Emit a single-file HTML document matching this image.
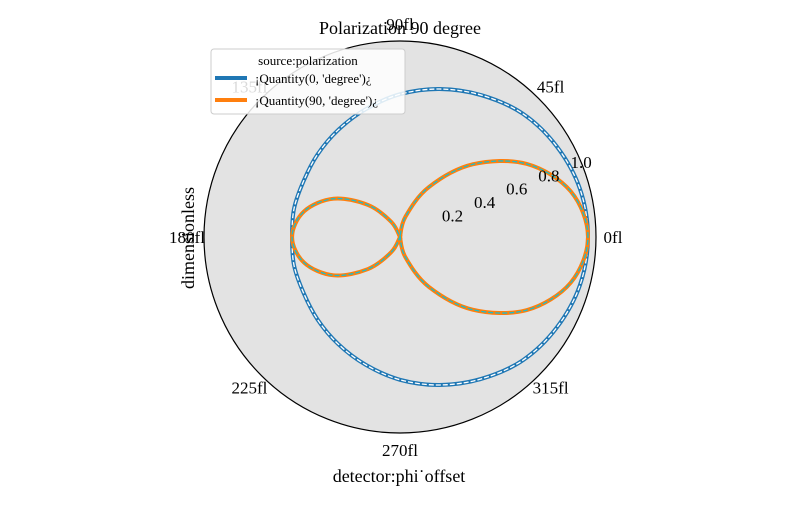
<!DOCTYPE html>
<html><head><meta charset="utf-8"><style>
body{margin:0;background:#fff;}
svg text{font-family:"Liberation Serif",serif;fill:#000;}
</style></head><body>
<svg id="chart" width="800" height="500" viewBox="0 0 800 500" xmlns="http://www.w3.org/2000/svg">
<circle cx="400" cy="237" r="196" fill="#e3e3e3" stroke="#000" stroke-width="1.2"/>
<g id="curves"></g>
<g id="ticks"></g>
<text x="400" y="34" font-size="18" text-anchor="middle">Polarization 90 degree</text>
<text x="399" y="482" font-size="18" text-anchor="middle">detector:phi˙offset</text>
<text transform="translate(194,238) rotate(-90)" font-size="18" text-anchor="middle">dimensionless</text>
<g>
<rect x="211" y="49" width="194" height="65" rx="3" fill="#fff" fill-opacity="0.85" stroke="#ccc"/>
<text x="308" y="65" font-size="13" text-anchor="middle">source:polarization</text>
<line x1="215" y1="78" x2="247" y2="78" stroke="#1f77b4" stroke-width="4"/>
<text x="255" y="83" font-size="13">¡Quantity(0, 'degree')¿</text>
<line x1="215" y1="100" x2="247" y2="100" stroke="#ff7f0e" stroke-width="4"/>
<text x="255" y="105" font-size="13">¡Quantity(90, 'degree')¿</text>
</g>
</svg>
<script>
const anglesDeg=[0,15,30,45,60,75,90,105,120,135,150,165,180,195,210,225,240,255,270,285,300,315,330,345];
const seriesPol0=[1.0,0.99,0.96,0.92,0.86,0.80,0.74,0.68,0.63,0.59,0.56,0.55,0.54,0.55,0.56,0.59,0.63,0.68,0.74,0.80,0.86,0.92,0.96,0.99];
const seriesPol90=[1.0,0.935,0.76,0.51,0.25,0.04,-0.08,-0.08,0.02,0.18,0.36,0.49,0.54,0.49,0.36,0.18,0.02,-0.08,-0.08,0.04,0.25,0.51,0.76,0.935];
const rTicks=[0.2,0.4,0.6,0.8,1.0];
const rTickLabels=["0.2","0.4","0.6","0.8","1.0"];
const thetaTicks=[0,45,90,135,180,225,270,315];
const thetaTickLabels=["0fl","45fl","90fl","135fl","180fl","225fl","270fl","315fl"];
const CX=400,CY=237,R=196;
function rScale(v){return Math.max(0,14+174*v);}
function pt(deg,v){const a=deg*Math.PI/180,r=rScale(v);return [CX+r*Math.cos(a),CY-r*Math.sin(a)];}
function pathFor(vals){
  const p=anglesDeg.map((d,i)=>pt(d,vals[i]));const n=p.length;
  let d="M"+p[0][0].toFixed(2)+","+p[0][1].toFixed(2);
  for(let i=0;i<n;i++){
    const p0=p[(i-1+n)%n],p1=p[i],p2=p[(i+1)%n],p3=p[(i+2)%n];
    const c1=[p1[0]+(p2[0]-p0[0])/6,p1[1]+(p2[1]-p0[1])/6];
    const c2=[p2[0]-(p3[0]-p1[0])/6,p2[1]-(p3[1]-p1[1])/6];
    d+="C"+c1.map(x=>x.toFixed(2))+" "+c2.map(x=>x.toFixed(2))+" "+p2.map(x=>x.toFixed(2));
  }
  return d+"Z";
}
const NS="http://www.w3.org/2000/svg";
const curves=document.getElementById('curves');
function addPath(d,stroke,w,dash,name){
  const el=document.createElementNS(NS,'path');
  el.setAttribute('d',d);el.setAttribute('fill','none');el.setAttribute('stroke',stroke);el.setAttribute('stroke-width',w);
  if(dash)el.setAttribute('stroke-dasharray',dash);
  
  
  curves.appendChild(el);
}
const d0=pathFor(seriesPol0),d90=pathFor(seriesPol90);
addPath(d0,'#1f77b4',4,null,'series-pol-0deg');
addPath(d0,'#ffffff',1.3,'5,2','series-pol-0deg-dash');
addPath(d90,'#ff7f0e',4,null,'series-pol-90deg');
addPath(d90,'#17becf',1.3,'5,2','series-pol-90deg-dash');
const ticks=document.getElementById('ticks');
rTicks.forEach((v,i)=>{
  const a=22.5*Math.PI/180,r=rScale(v)+8;
  const t=document.createElementNS(NS,'text');
  t.setAttribute('x',CX+r*Math.cos(a));t.setAttribute('y',CY-r*Math.sin(a)+6);
  t.setAttribute('font-size','17');t.setAttribute('text-anchor','middle');
  t.textContent=rTickLabels[i];
  
  
  ticks.appendChild(t);
});
thetaTicks.forEach((deg,i)=>{
  const a=deg*Math.PI/180,r=R+17;
  const t=document.createElementNS(NS,'text');
  t.setAttribute('x',CX+r*Math.cos(a));t.setAttribute('y',CY-r*Math.sin(a)+6);
  t.setAttribute('font-size','17');t.setAttribute('text-anchor','middle');
  t.textContent=thetaTickLabels[i];
  
  
  ticks.appendChild(t);
});
</script>
</body></html>
